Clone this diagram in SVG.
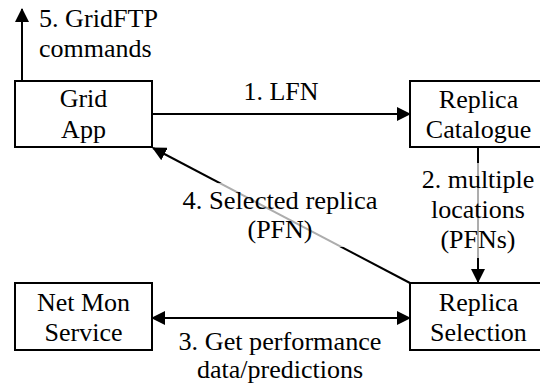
<svg xmlns="http://www.w3.org/2000/svg" width="540" height="387" viewBox="0 0 540 387">
<style>
.box{fill:#fff;stroke:#000;stroke-width:2}
text{font-family:'Liberation Serif','Times New Roman','DejaVu Serif',serif;font-size:26px;fill:#000}
.t{text-anchor:middle}
.c{stroke:#000;stroke-width:2;fill:none}
.veil{fill:#fff;fill-opacity:0.68}
</style>
<defs>
<marker id="ah" markerUnits="userSpaceOnUse" markerWidth="14" markerHeight="14" refX="13" refY="7" orient="auto-start-reverse">
<path d="M0,0 L14,7 L0,14 z" fill="#000"/>
</marker>
</defs>
<rect width="540" height="387" fill="#fff"/>
<g id="connectors">
<line class="c" x1="22" y1="81" x2="22" y2="9" marker-end="url(#ah)"/>
<line class="c" x1="152" y1="114" x2="410" y2="114" marker-end="url(#ah)"/>
<line class="c" x1="478" y1="147" x2="478" y2="282" marker-end="url(#ah)"/>
<line class="c" x1="152" y1="318" x2="410" y2="318" marker-start="url(#ah)" marker-end="url(#ah)"/>
<line class="c" x1="410" y1="283" x2="153" y2="148" marker-end="url(#ah)"/>
<rect class="veil" x="181" y="183" width="199" height="64"/>
<rect class="veil" x="418" y="163" width="120" height="95"/>
<text x="39" y="27" textLength="119" lengthAdjust="spacingAndGlyphs">5. GridFTP</text>
<text x="39" y="57" textLength="112.7" lengthAdjust="spacingAndGlyphs">commands</text>
<text class="t" x="281" y="100" textLength="75" lengthAdjust="spacingAndGlyphs">1. LFN</text>
<text class="t" x="478" y="188" textLength="112.7" lengthAdjust="spacingAndGlyphs">2. multiple</text>
<text class="t" x="478" y="218" textLength="93.9" lengthAdjust="spacingAndGlyphs">locations</text>
<text class="t" x="478" y="248" textLength="75.1" lengthAdjust="spacingAndGlyphs">(PFNs)</text>
<text class="t" x="280" y="209" textLength="195" lengthAdjust="spacingAndGlyphs">4. Selected replica</text>
<text class="t" x="280" y="238" textLength="65" lengthAdjust="spacingAndGlyphs">(PFN)</text>
<text class="t" x="280" y="350" textLength="203" lengthAdjust="spacingAndGlyphs">3. Get performance</text>
<text class="t" x="280" y="378" textLength="166" lengthAdjust="spacingAndGlyphs">data/predictions</text>
</g>
<g id="grid-app">
<rect class="box" x="15" y="81" width="137" height="66"/>
<text class="t" x="83.5" y="107" textLength="47.7" lengthAdjust="spacingAndGlyphs">Grid</text>
<text class="t" x="83.5" y="138" textLength="44.8" lengthAdjust="spacingAndGlyphs">App</text>
</g>
<g id="replica-catalogue">
<rect class="box" x="410" y="81" width="137" height="66"/>
<text class="t" x="478.5" y="108" textLength="79.4" lengthAdjust="spacingAndGlyphs">Replica</text>
<text class="t" x="478.5" y="138" textLength="105.4" lengthAdjust="spacingAndGlyphs">Catalogue</text>
</g>
<g id="net-mon-service">
<rect class="box" x="15" y="283" width="137" height="67"/>
<text class="t" x="83.5" y="311" textLength="93.2" lengthAdjust="spacingAndGlyphs">Net Mon</text>
<text class="t" x="83.5" y="341" textLength="78" lengthAdjust="spacingAndGlyphs">Service</text>
</g>
<g id="replica-selection">
<rect class="box" x="410" y="283" width="137" height="67"/>
<text class="t" x="478.5" y="311" textLength="79.4" lengthAdjust="spacingAndGlyphs">Replica</text>
<text class="t" x="478.5" y="341" textLength="96.8" lengthAdjust="spacingAndGlyphs">Selection</text>
</g>
</svg>
